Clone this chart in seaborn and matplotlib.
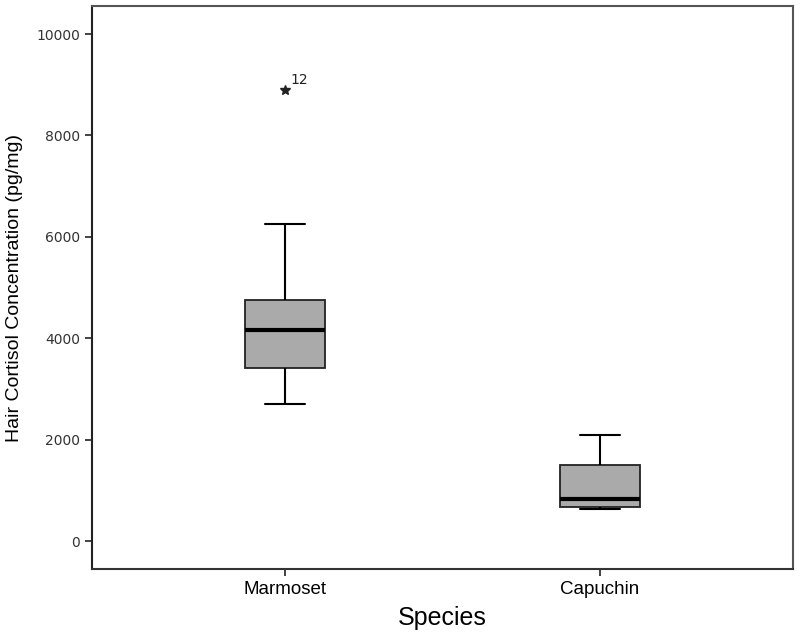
import matplotlib
matplotlib.use("Agg")
import matplotlib.pyplot as plt
import seaborn as sns
import pandas as pd
import numpy as np

species = ["Marmoset", "Capuchin"]
marmoset_values = [2700, 3100, 3412, 3800, 4162, 4500, 4753, 6250, 8900]
capuchin_values = [631, 671, 828, 1499, 2091]
outlier_label = "12"
outlier_value = 8900
yticks = [0, 2000, 4000, 6000, 8000, 10000]

df = pd.DataFrame({
    "Species": ["Marmoset"] * len(marmoset_values) + ["Capuchin"] * len(capuchin_values),
    "Cortisol": marmoset_values + capuchin_values,
})

sns.set_style("ticks")
plt.rcParams["font.family"] = ["Liberation Sans", "DejaVu Sans"]

fig = plt.figure(figsize=(8, 6.33), dpi=100)
ax = fig.add_axes([0.115, 0.101, 0.876, 0.8895])

sns.boxplot(
    data=df, x="Species", y="Cortisol", order=species, ax=ax,
    color="#aaaaaa", width=0.254, whis=1.5, linewidth=1.3, linecolor="black",
    saturation=1,
    boxprops=dict(facecolor="#aaaaaa", edgecolor="#222222"),
    medianprops=dict(color="black", linewidth=3),
    whiskerprops=dict(color="black", linewidth=1.5),
    capprops=dict(color="black", linewidth=1.5),
    flierprops=dict(marker="*", markersize=7, markerfacecolor="#222222",
                    markeredgecolor="#222222", linestyle="none"),
)

ax.annotate(outlier_label, xy=(0, outlier_value), xytext=(4, 4),
            textcoords="offset points", fontsize=10, color="#222222",
            family="DejaVu Sans")

ax.set_xlim(-0.613, 1.613)
ax.set_ylim(-552, 10552)
ax.set_yticks(yticks)
ax.set_yticklabels([str(v) for v in yticks], family="DejaVu Sans", fontsize=10, color="#333333")
ax.tick_params(axis="y", length=5, width=1.2, color="#222222")
ax.tick_params(axis="x", length=5, width=1.2, color="#222222", labelsize=13.5, labelcolor="black")
ax.set_xlabel("Species", fontsize=18, color="black", va="center")
ax.set_ylabel("Hair Cortisol Concentration (pg/mg)", fontsize=14, color="black", va="center")
ax.xaxis.set_label_coords(0.5, -0.087)
ax.yaxis.set_label_coords(-0.11, 0.5)

for s in ["top", "right", "left", "bottom"]:
    ax.spines[s].set_visible(True)
    ax.spines[s].set_color("#555555")
    ax.spines[s].set_linewidth(1.5)
ax.spines["left"].set_color("#222222")
ax.spines["bottom"].set_color("#333333")

fig.savefig("out.png", dpi=100)
